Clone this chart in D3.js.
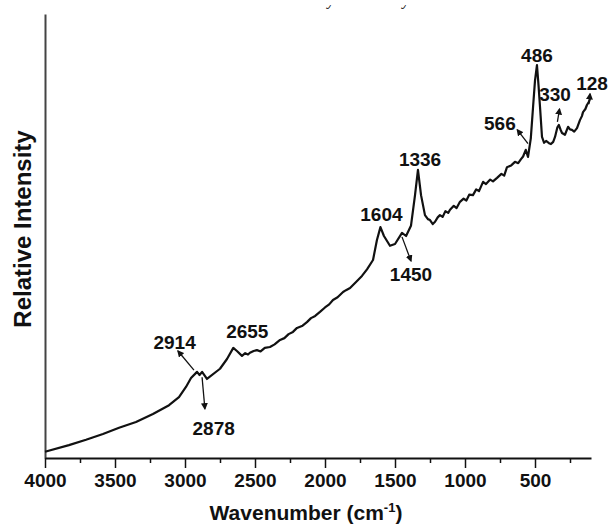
<!DOCTYPE html>
<html lang="en">
<head>
  <meta charset="utf-8" />
  <script src="https://d3js.org/d3.v7.min.js"></script>
  <style>
    body { margin: 0; background: #fff; }
    text { font-family: "Liberation Sans", Arial, sans-serif; font-weight: bold; fill: #111; }
  </style>
</head>
<body>
  <script>
    // spectrum (wavenumber in cm-1, relative intensity 0-100)
    var wavenumbers = [4000, 3829, 3707, 3586, 3471, 3350, 3229, 3114, 3043, 2993, 2957, 2914, 2896, 2878, 2843,
      2750, 2700, 2655, 2629, 2593, 2570, 2550, 2536, 2510, 2486, 2460, 2430, 2393, 2360, 2321, 2290, 2260,
      2229, 2200, 2160, 2129, 2100, 2070, 2036, 2000, 1970, 1943, 1910, 1871, 1850, 1821, 1780, 1736, 1700,
      1657, 1629, 1604, 1579, 1536, 1500, 1450, 1421, 1386, 1357, 1336, 1314, 1286, 1265, 1250, 1230, 1214,
      1195, 1179, 1160, 1140, 1120, 1107, 1080, 1060, 1036, 1010, 990, 970, 943, 920, 900, 871, 850, 820,
      800, 771, 740, 720, 700, 670, 643, 620, 600, 585, 566, 550, 530, 514, 500, 486, 475, 464, 450, 435,
      421, 400, 386, 370, 357, 340, 330, 318, 307, 286, 264, 250, 236, 220, 200, 179, 165, 157, 140, 129, 115, 107];
    var intensity = [1.4, 2.9, 4.1, 5.4, 6.8, 8.1, 9.9, 11.9, 13.7, 16.0, 18.0, 19.4, 18.7, 19.4, 17.8,
      20.1, 22.3, 24.8, 24.1, 23.0, 23.6, 23.3, 23.7, 24.1, 24.3, 24.0, 24.8, 25.0, 25.6, 26.6, 27.0, 27.9,
      28.4, 29.3, 29.8, 30.6, 31.5, 32.0, 32.9, 33.9, 34.6, 35.6, 36.2, 37.4, 37.8, 38.3, 39.6, 41.0, 42.5,
      44.6, 49.1, 52.0, 50.0, 47.8, 48.2, 50.7, 50.0, 52.3, 59.2, 64.9, 59.2, 54.7, 53.8, 53.6, 52.7, 53.2,
      54.2, 54.7, 54.3, 55.6, 55.2, 55.9, 56.8, 56.3, 57.7, 58.4, 58.0, 59.3, 59.2, 60.5, 60.1, 62.2, 61.7, 62.7,
      62.3, 63.1, 64.0, 63.6, 65.5, 65.9, 66.7, 66.4, 67.3, 67.9, 69.4, 67.8, 72.0, 79.0, 85.0, 88.5, 84.0, 79.0, 72.3, 71.0,
      71.4, 70.9, 70.7, 71.2, 72.3, 74.5, 75.0, 74.0, 73.2, 72.8, 74.6, 74.0, 73.9, 73.5, 74.3, 76.1, 77.0, 77.9, 78.6, 79.5, 80.2, 80.9];

    var majorTicks = [4000, 3500, 3000, 2500, 2000, 1500, 1000, 500];
    var minorTicks = [3750, 3250, 2750, 2250, 1750, 1250, 750, 250];

    // peak labels: text, label anchor (wavenumber, intensity), arrow from -> to (wavenumber, intensity)
    var peakLabels = ["2914", "2878", "2655", "1604", "1450", "1336", "566", "486", "330", "128"];
    var labelAt = [[3074, 24.5], [2795, 5.1], [2555, 27], [1597, 53.3], [1386, 39.9], [1321, 65.8], [751, 73.9], [486, 89.2], [357, 80.4], [93, 82.9]];
    var arrowFrom = [[2936, 19.8], [2878, 18.2], null, null, [1450, 49.8], null, [550, 70.8], null, [340, 75.7], [115, 79.7]];
    var arrowTo = [[3050, 24.1], [2858, 11.1], null, null, [1386, 44.4], null, [626, 73.9], null, [325, 78.6], [107, 82.0]];

    var width = 608,
      height = 526;

    var svg = d3.select("body")
      .append("svg")
      .attr("width", width)
      .attr("height", height);

    var x = d3.scaleLinear().domain([4000, 100]).range([45, 591]);
    var y = d3.scaleLinear().domain([0, 100]).range([458, 14]);

    svg.append("defs").append("marker")
      .attr("id", "head")
      .attr("viewBox", "0 0 10 10")
      .attr("refX", 8)
      .attr("refY", 5)
      .attr("markerWidth", 7)
      .attr("markerHeight", 7)
      .attr("markerUnits", "userSpaceOnUse")
      .attr("orient", "auto")
      .append("path")
      .attr("d", "M0,0 L10,5 L0,10 Z")
      .attr("fill", "#111");

    // cut-off caption fragments at the very top (only descenders visible in the source)
    svg.append("clipPath").attr("id", "topclip")
      .append("rect").attr("x", 0).attr("y", 5).attr("width", width).attr("height", 10);
    svg.append("g").attr("clip-path", "url(#topclip)")
      .selectAll("text").data([331, 406]).enter().append("text")
      .attr("x", function (d) { return d; })
      .attr("y", 5)
      .attr("text-anchor", "middle")
      .style("font-family", "'Liberation Serif', serif")
      .style("font-style", "italic")
      .style("font-weight", "normal")
      .style("font-size", "16px")
      .text("y");

    // left axis: bare line
    var yAxis = svg.append("g")
      .attr("transform", "translate(45,0)")
      .call(d3.axisLeft(y).tickValues([]).tickSizeOuter(0));
    yAxis.select(".domain").attr("stroke", "#444").attr("stroke-width", 2);

    // bottom axis with major and minor ticks
    var xMinor = svg.append("g")
      .attr("transform", "translate(0,458)")
      .call(d3.axisBottom(x).tickValues(minorTicks).tickSize(5).tickSizeOuter(0).tickFormat(""));
    xMinor.select(".domain").remove();
    xMinor.selectAll(".tick line").attr("stroke", "#111").attr("stroke-width", 1.5);

    var xAxis = svg.append("g")
      .attr("transform", "translate(0,458)")
      .call(d3.axisBottom(x).tickValues(majorTicks).tickSize(10).tickSizeOuter(0).tickPadding(6).tickFormat(d3.format("d")));
    xAxis.select(".domain").attr("stroke", "#111").attr("stroke-width", 2);
    xAxis.selectAll(".tick line").attr("stroke", "#111").attr("stroke-width", 1.5);
    xAxis.selectAll(".tick text")
      .style("font-family", "'Liberation Sans', Arial, sans-serif")
      .style("font-weight", "bold")
      .style("font-size", "19px")
      .attr("fill", "#111");

    // spectrum
    var points = wavenumbers.map(function (w, i) { return [w, intensity[i]]; });
    var line = d3.line()
      .x(function (d) { return x(d[0]); })
      .y(function (d) { return y(d[1]); });

    svg.append("path")
      .datum(points)
      .attr("d", line)
      .attr("fill", "none")
      .attr("stroke", "#111")
      .attr("stroke-width", 2.2)
      .attr("stroke-linejoin", "round");

    // annotation arrows
    peakLabels.forEach(function (lab, i) {
      var a = arrowFrom[i], b = arrowTo[i];
      if (!a) return;
      svg.append("line")
        .attr("x1", x(a[0])).attr("y1", y(a[1]))
        .attr("x2", x(b[0])).attr("y2", y(b[1]))
        .attr("stroke", "#111")
        .attr("stroke-width", 1.3)
        .attr("marker-end", "url(#head)");
    });

    // peak labels
    svg.selectAll(".peak")
      .data(peakLabels)
      .enter().append("text")
      .attr("class", "peak")
      .attr("x", function (d, i) { return x(labelAt[i][0]); })
      .attr("y", function (d, i) { return y(labelAt[i][1]); })
      .attr("text-anchor", "middle")
      .style("font-size", "19px")
      .text(function (d) { return d; });

    // axis titles
    var xt = svg.append("text")
      .attr("x", 306)
      .attr("y", 520)
      .attr("text-anchor", "middle")
      .style("font-size", "21px");
    xt.append("tspan").text("Wavenumber (cm");
    xt.append("tspan").attr("dy", -8).style("font-size", "13px").text("-1");
    xt.append("tspan").attr("dy", 8).text(")");

    svg.append("text")
      .attr("transform", "translate(31,229) rotate(-90)")
      .attr("text-anchor", "middle")
      .style("font-size", "24px")
      .text("Relative Intensity");
  </script>
</body>
</html>
